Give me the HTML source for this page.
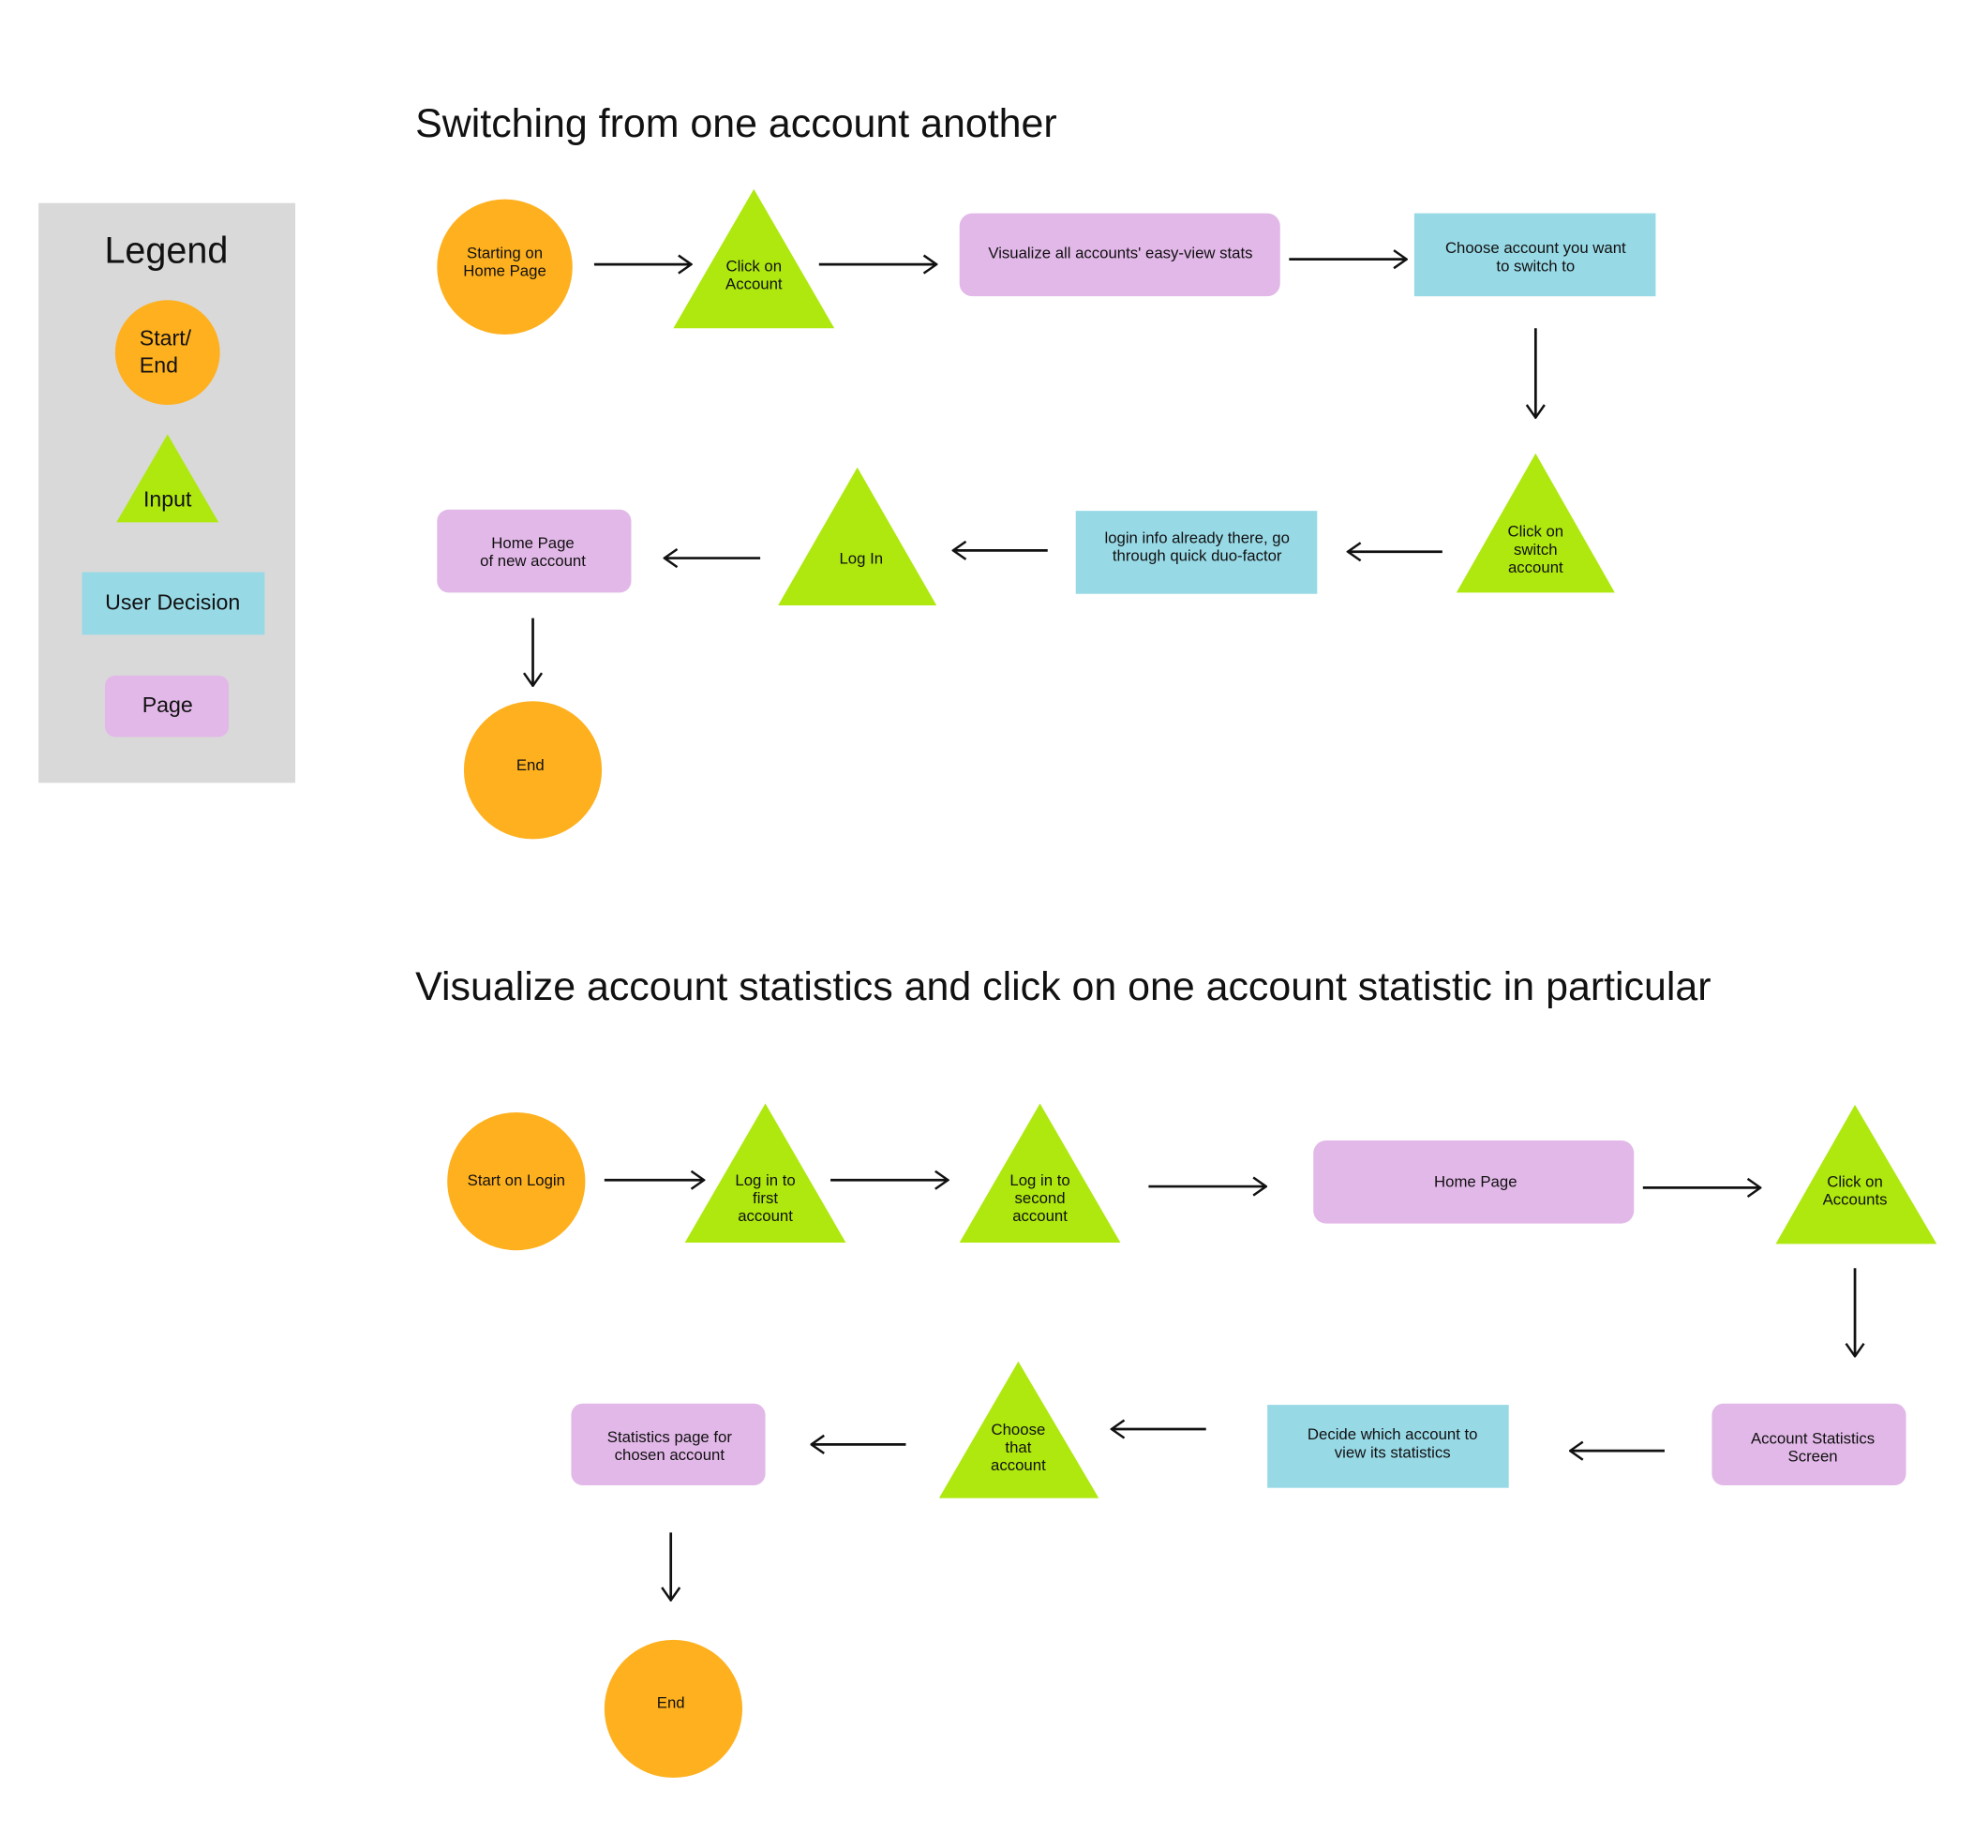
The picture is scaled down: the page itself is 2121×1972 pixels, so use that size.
<!DOCTYPE html>
<html><head><meta charset="utf-8"><style>
html,body{margin:0;padding:0;background:#fff;}
svg{display:block;}
text{font-family:"Liberation Sans",sans-serif;fill:#111;}
.n{font-size:12.3px;text-anchor:middle;dominant-baseline:middle;}
.a{stroke:#111;stroke-width:2;fill:none;}
</style></head><body>
<svg width="2121" height="1972" viewBox="0 0 1556 1447" xmlns="http://www.w3.org/2000/svg">
<defs>
<marker id="ah" viewBox="0 0 12 16" refX="11" refY="8" markerWidth="12" markerHeight="16" markerUnits="userSpaceOnUse" orient="auto">
<path d="M1,1 L11,8 L1,15" fill="none" stroke="#111" stroke-width="1.8"/>
</marker>
</defs>
<rect width="1556" height="1447" fill="#fff"/>
<!-- Legend -->
<rect x="30" y="159" width="201" height="454" fill="#d9d9d9"/>
<text x="130" y="198" font-size="29" text-anchor="middle" dominant-baseline="middle">Legend</text>
<circle cx="131" cy="276" r="41" fill="#feb01e"/>
<text x="109" y="266" font-size="17" dominant-baseline="middle">Start/</text>
<text x="109" y="287" font-size="17" dominant-baseline="middle">End</text>
<polygon points="131,340 171,409 91,409" fill="#aee80e"/>
<text x="131" y="392" font-size="17" text-anchor="middle" dominant-baseline="middle">Input</text>
<rect x="64" y="448" width="143" height="49" fill="#98d9e6"/>
<text x="135" y="473" font-size="17" text-anchor="middle" dominant-baseline="middle">User Decision</text>
<rect x="82" y="529" width="97" height="48" rx="8" fill="#e2b8e8"/>
<text x="131" y="553" font-size="17" text-anchor="middle" dominant-baseline="middle">Page</text>

<!-- Flow 1 -->
<text x="325" y="107" font-size="31.5">Switching from one account another</text>
<circle cx="395" cy="209" r="53" fill="#feb01e"/>
<text class="n" x="395" y="199">Starting on</text><text class="n" x="395" y="213">Home Page</text>
<line class="a" x1="465" y1="207" x2="541" y2="207" marker-end="url(#ah)"/>
<polygon points="590,148 653,257 527,257" fill="#aee80e"/>
<text class="n" x="590" y="209">Click on</text><text class="n" x="590" y="223">Account</text>
<line class="a" x1="641" y1="207" x2="733" y2="207" marker-end="url(#ah)"/>
<rect x="751" y="167" width="251" height="65" rx="10" fill="#e2b8e8"/>
<text class="n" x="877" y="199">Visualize all accounts' easy-view stats</text>
<line class="a" x1="1009" y1="203" x2="1101" y2="203" marker-end="url(#ah)"/>
<rect x="1107" y="167" width="189" height="65" fill="#98d9e6"/>
<text class="n" x="1202" y="195">Choose account you want</text><text class="n" x="1202" y="209">to switch to</text>
<line class="a" x1="1202" y1="257" x2="1202" y2="327" marker-end="url(#ah)"/>
<polygon points="1202,355 1264,464 1140,464" fill="#aee80e"/>
<text class="n" x="1202" y="417">Click on</text><text class="n" x="1202" y="431">switch</text><text class="n" x="1202" y="445">account</text>
<line class="a" x1="1129" y1="432" x2="1055" y2="432" marker-end="url(#ah)"/>
<rect x="842" y="400" width="189" height="65" fill="#98d9e6"/>
<text class="n" x="937" y="422">login info already there, go</text><text class="n" x="937" y="436">through quick duo-factor</text>
<line class="a" x1="820" y1="431" x2="746" y2="431" marker-end="url(#ah)"/>
<polygon points="671,366 733,474 609,474" fill="#aee80e"/>
<text class="n" x="674" y="438">Log In</text>
<line class="a" x1="595" y1="437" x2="520" y2="437" marker-end="url(#ah)"/>
<rect x="342" y="399" width="152" height="65" rx="9" fill="#e2b8e8"/>
<text class="n" x="417" y="426">Home Page</text><text class="n" x="417" y="440">of new account</text>
<line class="a" x1="417" y1="484" x2="417" y2="537" marker-end="url(#ah)"/>
<circle cx="417" cy="603" r="54" fill="#feb01e"/>
<text class="n" x="415" y="600">End</text>

<!-- Flow 2 -->
<text x="325" y="783" font-size="31.5">Visualize account statistics and click on one account statistic in particular</text>
<circle cx="404" cy="925" r="54" fill="#feb01e"/>
<text class="n" x="404" y="925">Start on Login</text>
<line class="a" x1="473" y1="924" x2="551" y2="924" marker-end="url(#ah)"/>
<polygon points="599,864 662,973 536,973" fill="#aee80e"/>
<text class="n" x="599" y="925">Log in to</text><text class="n" x="599" y="939">first</text><text class="n" x="599" y="953">account</text>
<line class="a" x1="650" y1="924" x2="742" y2="924" marker-end="url(#ah)"/>
<polygon points="814,864 877,973 751,973" fill="#aee80e"/>
<text class="n" x="814" y="925">Log in to</text><text class="n" x="814" y="939">second</text><text class="n" x="814" y="953">account</text>
<line class="a" x1="899" y1="929" x2="991" y2="929" marker-end="url(#ah)"/>
<rect x="1028" y="893" width="251" height="65" rx="10" fill="#e2b8e8"/>
<text class="n" x="1155" y="926">Home Page</text>
<line class="a" x1="1286" y1="930" x2="1378" y2="930" marker-end="url(#ah)"/>
<polygon points="1452,865 1516,974 1390,974" fill="#aee80e"/>
<text class="n" x="1452" y="926">Click on</text><text class="n" x="1452" y="940">Accounts</text>
<line class="a" x1="1452" y1="993" x2="1452" y2="1062" marker-end="url(#ah)"/>
<rect x="1340" y="1099" width="152" height="64" rx="9" fill="#e2b8e8"/>
<text class="n" x="1419" y="1127">Account Statistics</text><text class="n" x="1419" y="1141">Screen</text>
<line class="a" x1="1303" y1="1136" x2="1229" y2="1136" marker-end="url(#ah)"/>
<rect x="992" y="1100" width="189" height="65" fill="#98d9e6"/>
<text class="n" x="1090" y="1124">Decide which account to</text><text class="n" x="1090" y="1138">view its statistics</text>
<line class="a" x1="944" y1="1119" x2="870" y2="1119" marker-end="url(#ah)"/>
<polygon points="797,1066 860,1173 735,1173" fill="#aee80e"/>
<text class="n" x="797" y="1120">Choose</text><text class="n" x="797" y="1134">that</text><text class="n" x="797" y="1148">account</text>
<line class="a" x1="709" y1="1131" x2="635" y2="1131" marker-end="url(#ah)"/>
<rect x="447" y="1099" width="152" height="64" rx="9" fill="#e2b8e8"/>
<text class="n" x="524" y="1126">Statistics page for</text><text class="n" x="524" y="1140">chosen account</text>
<line class="a" x1="525" y1="1200" x2="525" y2="1253" marker-end="url(#ah)"/>
<circle cx="527" cy="1338" r="54" fill="#feb01e"/>
<text class="n" x="525" y="1334">End</text>
</svg>
</body></html>
